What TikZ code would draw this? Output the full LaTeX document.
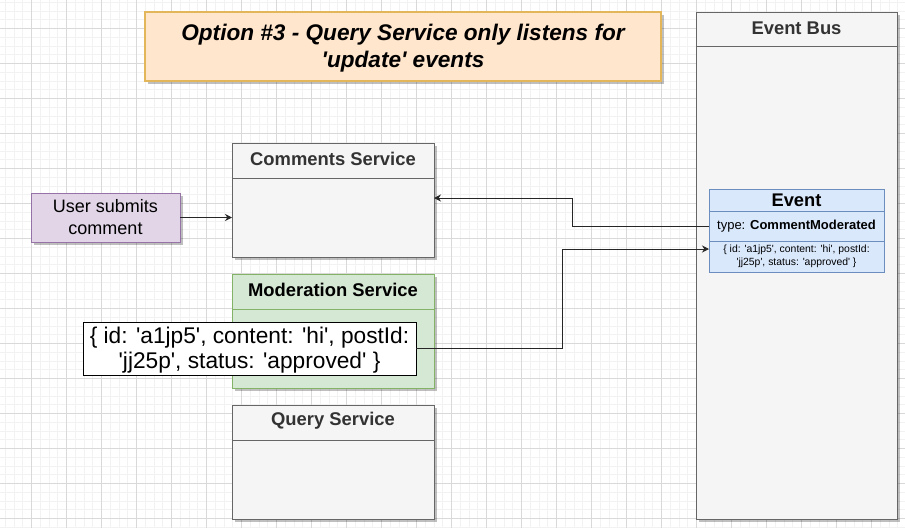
\documentclass[tikz,border=0pt]{standalone}
\usepackage{fontspec}
\setmainfont{Liberation Sans}[Ligatures=TeXOff]
\usetikzlibrary{arrows.meta,shadows}
\definecolor{gridminor}{HTML}{F2F2F2}
\definecolor{gridmajor}{HTML}{D9D9D9}
\definecolor{grayfill}{HTML}{F5F5F5}
\definecolor{graystroke}{HTML}{666666}
\definecolor{graytext}{HTML}{333333}
\definecolor{greenfill}{HTML}{D5E8D4}
\definecolor{greenstroke}{HTML}{82B366}
\definecolor{purplefill}{HTML}{E1D5E7}
\definecolor{purplestroke}{HTML}{9673A6}
\definecolor{bluefill}{HTML}{DAE8FC}
\definecolor{bluestroke}{HTML}{6C8EBF}
\definecolor{orangefill}{HTML}{FFE6CC}
\definecolor{orangestroke}{HTML}{E3B65A}
\begin{document}
\begin{tikzpicture}[x=1pt,y=-1pt,
  shade box/.style={drop shadow={shadow xshift=2.5pt,shadow yshift=-2.5pt,fill=black,opacity=0.25}},
  basebox/.style={rectangle,anchor=north west,inner sep=0pt,outer sep=0pt,line width=1pt},
  graybox/.style={basebox,draw=graystroke,fill=grayfill,shade box},
  greenbox/.style={basebox,draw=greenstroke,fill=greenfill,shade box},
  purplebox/.style={basebox,draw=purplestroke,fill=purplefill,shade box},
  bluebox/.style={basebox,draw=bluestroke,fill=bluefill},
  titlebox/.style={basebox,draw=orangestroke,fill=orangefill,line width=1.5pt,shade box},
  hdr/.style={font=\fontsize{18.4}{21}\selectfont\bfseries,text=graytext,inner sep=0pt},
  datanode/.style={basebox,draw=black,fill=white},
  arr/.style={draw=black!85,line width=1pt,-{Stealth[length=7pt,width=7pt]}},
  plain/.style={draw=black!85,line width=1pt}
]
\useasboundingbox (0,0) rectangle (905,528);
\fill[white] (0,0) rectangle (905,528);
% grid
\foreach \i in {0,...,103} \draw[gridminor,line width=0.6pt] ({5.05+8.75*\i},0) -- ({5.05+8.75*\i},528);
\foreach \i in {0,...,60} \draw[gridminor,line width=0.6pt] (0,{2.05+8.75*\i}) -- (905,{2.05+8.75*\i});
\foreach \i in {0,...,25} \draw[gridmajor,line width=0.7pt] ({31.3+35*\i},0) -- ({31.3+35*\i},528);
\foreach \i in {0,...,14} \draw[gridmajor,line width=0.7pt] (0,{28.3+35*\i}) -- (905,{28.3+35*\i});

% title
\node[titlebox,minimum width=516,minimum height=69] (title) at (145,12) {};
\node[align=center,font=\fontsize{22.6}{27}\selectfont\bfseries\itshape,inner sep=0pt] (titletext) at ([yshift=-2pt]title.center) {Option \#3 - Query Service only listens for\\'update' events};

% event bus
\node[graybox,minimum width=201,minimum height=507] (bus) at (696,12) {};
\draw[graystroke,line width=1pt] ([yshift=-34pt]bus.north west) -- ([yshift=-34pt]bus.north east);
\node[hdr] (bushdr) at ([yshift=-16.5pt]bus.north) {Event Bus};

% comments service
\node[graybox,minimum width=202,minimum height=114] (cs) at (232,143) {};
\draw[graystroke,line width=1pt] ([yshift=-35pt]cs.north west) -- ([yshift=-35pt]cs.north east);
\node[hdr] (cshdr) at ([yshift=-16pt]cs.north) {Comments Service};

% moderation service
\node[greenbox,minimum width=202,minimum height=114] (ms) at (232,274) {};
\draw[greenstroke,line width=1pt] ([yshift=-35pt]ms.north west) -- ([yshift=-35pt]ms.north east);
\node[hdr,text=black] (mshdr) at ([yshift=-16pt]ms.north) {Moderation Service};

% query service
\node[graybox,minimum width=202,minimum height=114] (qs) at (232,405) {};
\draw[graystroke,line width=1pt] ([yshift=-35pt]qs.north west) -- ([yshift=-35pt]qs.north east);
\node[hdr] (qshdr) at ([yshift=-16pt]qs.north) {Query Service};

% user
\node[purplebox,minimum width=149,minimum height=49] (usr) at (31,193) {};
\node[align=center,font=\fontsize{18}{22}\selectfont,inner sep=0pt] (usrtext) at (usr.center) {User submits\\comment};

% event
\node[bluebox,minimum width=175,minimum height=22] (ev1) at (709,189) {};
\node[bluebox,minimum width=175,minimum height=30] (ev2) at (709,211) {};
\node[bluebox,minimum width=175,minimum height=31] (ev3) at (709,241) {};
\node[font=\fontsize{18.3}{20}\selectfont\bfseries,inner sep=0pt] (ev1t) at (ev1.center) {Event};
\node[font=\fontsize{13}{15}\selectfont,inner sep=0pt] (ev2t) at (ev2.center) {type: \textbf{CommentModerated}};
\node[align=center,font=\fontsize{10.4}{12.5}\selectfont,inner sep=0pt] (ev3t) at (ev3.center) {\{ id: 'a1jp5', content: 'hi', postId:\\'jj25p', status: 'approved' \}};

% data
\node[datanode,minimum width=333,minimum height=53] (data) at (83,322) {};
\node[align=center,font=\fontsize{22.7}{25}\selectfont,inner sep=0pt] (datatext) at ([yshift=-2pt]data.center) {\{ id: 'a1jp5', content: 'hi', postId:\\'jj25p', status: 'approved' \}};

% connectors
\draw[arr] (usr.east) -- (usr.east -| cs.west);
\draw[arr] (ev2.west) -- ++(-137,0) |- ([yshift=2pt]cs.east);
\draw[arr] (data.east) -- ++(146,0) |- ([yshift=7.5pt]ev3.west);
\end{tikzpicture}
\end{document}
